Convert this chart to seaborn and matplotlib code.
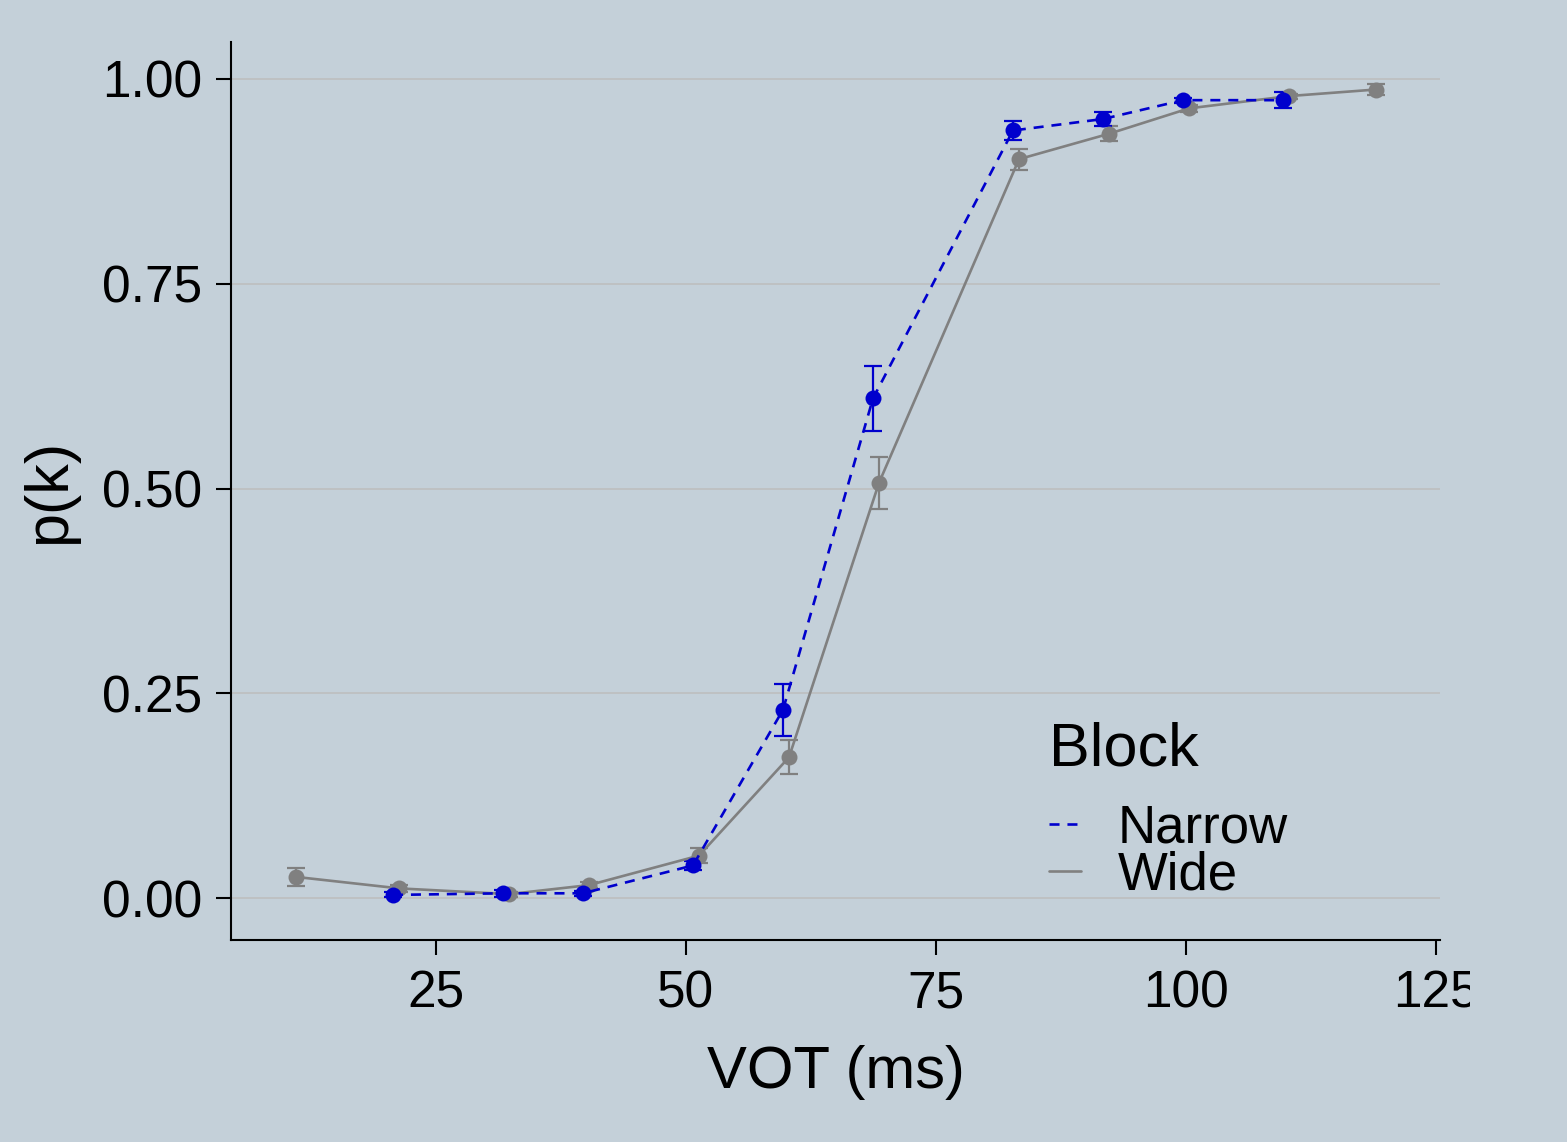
import numpy as np
import pandas as pd
import matplotlib
matplotlib.use("Agg")
import matplotlib.pyplot as plt
import seaborn as sns
from matplotlib.transforms import Bbox
from matplotlib.lines import Line2D

# ---- data ----
narrow_vot = [20.7, 31.7, 39.7, 50.7, 59.7, 68.7, 82.7, 91.7, 99.7, 109.7]
narrow_pk = [0.004, 0.006, 0.006, 0.040, 0.230, 0.610, 0.937, 0.951, 0.974, 0.974]
narrow_se = [0.003, 0.004, 0.003, 0.006, 0.032, 0.040, 0.011, 0.008, 0.003, 0.010]

wide_vot = [11.0, 21.3, 32.3, 40.3, 51.3, 60.3, 69.3, 83.3, 92.3, 100.3, 110.3, 119.0]
wide_pk = [0.026, 0.012, 0.005, 0.016, 0.052, 0.172, 0.507, 0.902, 0.933, 0.964, 0.979, 0.987]
wide_se = [0.011, 0.004, 0.003, 0.004, 0.009, 0.021, 0.032, 0.013, 0.009, 0.004, 0.003, 0.007]

block_names = ["Narrow", "Wide"]
colors = {"Narrow": "#0000CD", "Wide": "#808080"}
x_ticks = [25, 50, 75, 100, 125]
y_ticks = [0.00, 0.25, 0.50, 0.75, 1.00]

df = pd.DataFrame({
    "VOT": narrow_vot + wide_vot,
    "pk": narrow_pk + wide_pk,
    "se": narrow_se + wide_se,
    "Block": ["Narrow"] * len(narrow_vot) + ["Wide"] * len(wide_vot),
})

bg = "#C4D0D9"
sns.set_theme(style="white")
plt.rcParams["font.family"] = ["Liberation Sans", "DejaVu Sans"]
plt.rcParams["text.color"] = "black"

fig = plt.figure(figsize=(15.67, 11.42), dpi=100, facecolor=bg)
ax = fig.add_axes([231 / 1567, 1 - 940 / 1142, (1440 - 231) / 1567, (940 - 42) / 1142])
ax.set_facecolor(bg)

dash = (3.8, 3.0)

# error bars
for name in ["Wide", "Narrow"]:
    sub = df[df["Block"] == name]
    ax.errorbar(sub["VOT"], sub["pk"], yerr=sub["se"], fmt="none",
                ecolor=colors[name], elinewidth=1.6, capsize=6.3, capthick=1.6,
                zorder=3 if name == "Wide" else 5)

sns.lineplot(data=df, x="VOT", y="pk", hue="Block", style="Block",
             hue_order=block_names, style_order=block_names,
             palette=colors, dashes={"Narrow": dash, "Wide": ""},
             markers={"Narrow": "o", "Wide": "o"}, markersize=11.5,
             markeredgewidth=0, linewidth=1.9, sort=True, ax=ax, legend=False)

for line in ax.get_lines():
    if str(line.get_color()).lower() == "#0000cd":
        line.set_zorder(6)
    else:
        line.set_zorder(4)

ax.set_xlim(4.5, 125.4)
ax.set_ylim(-0.051, 1.045)
ax.set_xticks(x_ticks)
ax.set_yticks(y_ticks)
ax.set_yticklabels([f"{v:.2f}" for v in y_ticks])
ax.grid(axis="y", color="#BDBDBD", linewidth=1.1)
ax.grid(axis="x", visible=False)
ax.set_axisbelow(True)

for s in ["top", "right"]:
    ax.spines[s].set_visible(False)
for s in ["left", "bottom"]:
    ax.spines[s].set_color("black")
    ax.spines[s].set_linewidth(1.5)

ax.tick_params(axis="both", which="major", length=11, width=1.5, color="black",
               direction="out", labelsize=37, labelcolor="black", pad=10,
               bottom=True, left=True)

ax.set_xlabel("VOT (ms)", fontsize=43, color="black", labelpad=19)
ax.set_ylabel("p(k)", fontsize=44, color="black", labelpad=17)

# legend
handles = [Line2D([0], [0], color=colors["Narrow"], lw=1.9, dashes=dash),
           Line2D([0], [0], color=colors["Wide"], lw=1.9)]
leg = ax.legend(handles, block_names, title="Block", loc="lower left",
                bbox_to_anchor=((1049 - 231) / 1209, (940 - 900) / 898),
                frameon=False, fontsize=38, title_fontsize=44,
                handlelength=0.6, handletextpad=0.7, labelspacing=-0.06,
                borderpad=0, borderaxespad=0, alignment="left")
leg.get_title().set_color("black")
for t in leg.get_texts():
    t.set_color("black")
leg._legend_box.sep = 18

# clip the last x tick label like the reference
fig.canvas.draw()
clip = Bbox.from_extents(0, 0, 1470, 1142)
for lab in ax.get_xticklabels():
    lab.set_clip_box(clip)
    lab.set_clip_on(True)

fig.savefig("out.png", dpi=100, facecolor=bg)
